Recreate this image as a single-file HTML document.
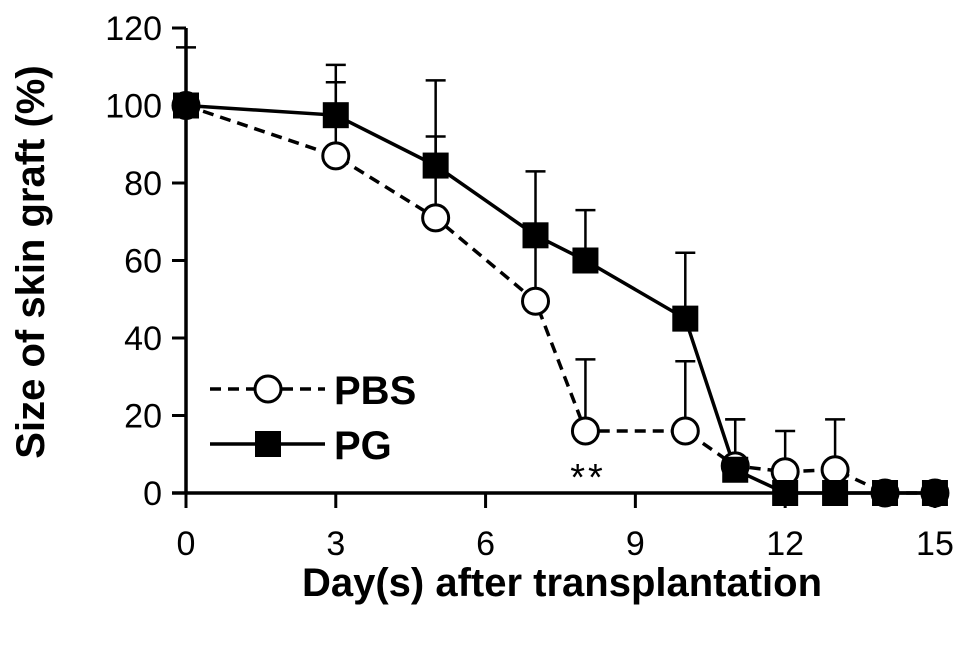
<!DOCTYPE html>
<html><head><meta charset="utf-8"><style>
body{margin:0;background:#fff}
svg{display:block;font-family:"Liberation Sans",Arial,sans-serif}
</style></head><body>
<svg id="c" width="969" height="645">
<g id="axes"></g><g id="series"></g>
<text transform="translate(44,262) rotate(-90)" text-anchor="middle" font-weight="bold" font-size="40">Size of skin graft (%)</text>
<text x="562" y="596" text-anchor="middle" font-weight="bold" font-size="40">Day(s) after transplantation</text>
<text x="588" y="490" text-anchor="middle" font-size="38" letter-spacing="3">**</text>
<g>
<line x1="210" y1="389" x2="325" y2="389" stroke="#000" stroke-width="3.5" stroke-dasharray="11,7"/>
<circle cx="268" cy="389" r="13" fill="#fff" stroke="#000" stroke-width="3"/>
<text x="334" y="404" font-weight="bold" font-size="40">PBS</text>
<line x1="210" y1="444" x2="325" y2="444" stroke="#000" stroke-width="3.5"/>
<rect x="255" y="431" width="26" height="26" fill="#000"/>
<text x="334" y="459" font-weight="bold" font-size="40">PG</text>
</g>
</svg>
<script>
const days=[0,3,5,7,8,10,11,12,13,14,15];
const pbs=[100,87,71,49.5,16,16,7,5.5,6,0,0];
const pbsErr=[15,19,21,16,18.5,18,12,10.5,13,0,0];
const pg=[100,97.5,84.5,66.5,60,45,6,0,0,0,0];
const pgErr=[0,13,22,16.5,13,17,13,0,0,0,0];
const xTicks=[0,3,6,9,12,15];
const yTicks=[0,20,40,60,80,100,120];
const X=d=>186+d*49.93, Y=v=>493-v*3.875;
const NS="http://www.w3.org/2000/svg";
function mk(p,t,a){const e=document.createElementNS(NS,t);for(const k in a)e.setAttribute(k,a[k]);p.appendChild(e);return e;}
const ax=document.getElementById('axes'), se=document.getElementById('series');
let e=mk(ax,'line',{x1:186,y1:Y(120),x2:186,y2:493,stroke:'#000','stroke-width':3.5});


e=mk(ax,'line',{x1:172,y1:493,x2:940,y2:493,stroke:'#000','stroke-width':3.5});


yTicks.forEach(v=>{mk(ax,'line',{x1:172,y1:Y(v),x2:186,y2:Y(v),stroke:'#000','stroke-width':3});
const t=mk(ax,'text',{x:162,y:Y(v)+12,'text-anchor':'end','font-size':34});t.textContent=v;

});
xTicks.forEach(v=>{mk(ax,'line',{x1:X(v),y1:493,x2:X(v),y2:508,stroke:'#000','stroke-width':3});
const t=mk(ax,'text',{x:X(v),y:555,'text-anchor':'middle','font-size':34});t.textContent=v;

});
function err(vals,errs){vals.forEach((v,i)=>{if(!errs[i])return;const x=X(days[i]),y=Y(v+errs[i]);
mk(se,'line',{x1:x,y1:Y(v),x2:x,y2:y,stroke:'#000','stroke-width':2.5});
mk(se,'line',{x1:x-10,y1:y,x2:x+10,y2:y,stroke:'#000','stroke-width':2.5});});}
err(pbs,pbsErr);err(pg,pgErr);
const pts=a=>a.map((v,i)=>X(days[i])+','+Y(v)).join(' ');
e=mk(se,'polyline',{points:pts(pbs),fill:'none',stroke:'#000','stroke-width':3.5,'stroke-dasharray':'11,7'});


e=mk(se,'polyline',{points:pts(pg),fill:'none',stroke:'#000','stroke-width':3.5});


pbs.forEach((v,i)=>{const c=mk(se,'circle',{cx:X(days[i]),cy:Y(v),r:13,fill:'#fff',stroke:'#000','stroke-width':3});

});
pg.forEach((v,i)=>{const r=mk(se,'rect',{x:X(days[i])-13,y:Y(v)-13,width:26,height:26,fill:'#000'});

});
</script>
</body></html>
